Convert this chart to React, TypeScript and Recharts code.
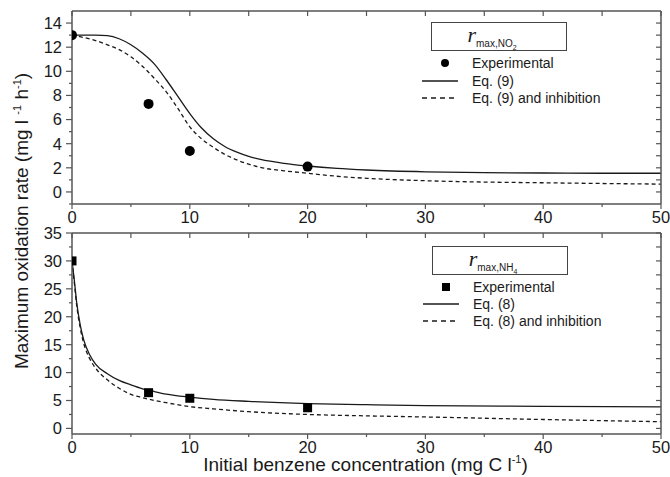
import React from 'react';
import { ComposedChart, Line, Scatter, XAxis, YAxis } from 'recharts';

// experimental points (benzene, mg C/l)
const expX = [0, 6.5, 10, 20];
const no2Exp = [13, 7.3, 3.4, 2.1];
const nh4Exp = [30, 6.4, 5.4, 3.7];

// model curves, NO2 panel
const no2CurveX = [0, 1, 2, 3, 4, 5, 6, 7, 8, 9, 10, 11, 12, 13, 14, 15, 16, 18, 20, 22.5, 25, 30, 35, 40, 45, 50];
const no2Eq9 = [13, 13, 13, 12.95, 12.7, 12.2, 11.5, 10.6, 9.3, 7.9, 6.5, 5.3, 4.4, 3.75, 3.3, 2.95, 2.7, 2.37, 2.15, 1.95, 1.82, 1.67, 1.6, 1.57, 1.55, 1.55];
const no2Eq9Inh = [13, 12.8, 12.55, 12.2, 11.8, 11.2, 10.4, 9.4, 8.3, 6.9, 5.4, 4.4, 3.7, 3.1, 2.65, 2.3, 2.03, 1.75, 1.55, 1.3, 1.13, 0.93, 0.82, 0.76, 0.7, 0.65];

// model curves, NH4 panel
const nh4CurveX = [0, 0.2, 0.4, 0.7, 1, 1.5, 2, 3, 4, 5, 6, 7, 8, 10, 12, 15, 20, 25, 30, 40, 50];
const nh4Eq8 = [30, 26.5, 22.5, 18.5, 15.8, 13.2, 11.5, 9.8, 8.6, 7.8, 7.1, 6.6, 6.15, 5.6, 5.2, 4.85, 4.45, 4.25, 4.1, 3.95, 3.85];
const nh4Eq8Inh = [30, 26, 22, 18, 15.2, 12.5, 10.8, 8.7, 7.2, 6.1, 5.5, 5.0, 4.6, 3.9, 3.5, 3.0, 2.5, 2.25, 2.05, 1.6, 1.2];

// ticks
const xMajor = [0, 10, 20, 30, 40, 50];
const xAll = [0, 5, 10, 15, 20, 25, 30, 35, 40, 45, 50];
const no2Major = [0, 2, 4, 6, 8, 10, 12, 14];
const no2All = [-1, 0, 1, 2, 3, 4, 5, 6, 7, 8, 9, 10, 11, 12, 13, 14];
const nh4Major = [0, 5, 10, 15, 20, 25, 30, 35];
const nh4All = [0, 2.5, 5, 7.5, 10, 12.5, 15, 17.5, 20, 22.5, 25, 27.5, 30, 32.5, 35];

const zip = (xs: number[], ys: number[]) => xs.map((x, i) => ({ x, y: ys[i] }));

const FONT = '"Liberation Sans", Arial, sans-serif';
const AXIS = '#555';
const INK = '#1a1a1a';
const TICK_FS = 16.5;
const TITLE_FS = 19;
const noLabel = () => <g />;

const Dot = (p: any) => <circle cx={p.cx} cy={p.cy} r={5} fill="#000" />;
const Square = (p: any) => <rect x={p.cx - 4.5} y={p.cy - 4.5} width={9} height={9} fill="#000" />;

// tick line + label drawn together so minor ticks can be shorter (tickSize 5, tickMargin 3)
const makeBottomTick = (majors: number[], labels: boolean) => (p: any) => {
  const v = p.payload.value;
  const major = majors.includes(v);
  const ay = p.y - 8;
  return (
    <g>
      <line x1={p.x} x2={p.x} y1={ay} y2={ay + (major ? 5 : 3)} stroke={AXIS} strokeWidth={1.2} />
      {major && labels && (
        <text x={p.x} y={p.y - 1} dy="0.71em" textAnchor="middle" fill={INK} fontSize={TICK_FS} fontFamily={FONT}>{v}</text>
      )}
    </g>
  );
};

// tickSize 6, tickMargin 4
const makeLeftTick = (majors: number[]) => (p: any) => {
  const v = p.payload.value;
  const major = majors.includes(v);
  const ax = p.x + 10;
  return (
    <g>
      <line x1={ax} x2={ax - (major ? 6 : 3)} y1={p.y} y2={p.y} stroke={AXIS} strokeWidth={1.2} />
      {major && (
        <text x={p.x} y={p.y} dy="0.355em" textAnchor="end" fill={INK} fontSize={TICK_FS} fontFamily={FONT}>{v}</text>
      )}
    </g>
  );
};

const XTitle = (props: any) => {
  const vb = props.viewBox || {};
  return (
    <text x={vb.x + vb.width / 2 - 1} y={vb.y + 37} textAnchor="middle" fill={INK} fontSize={TITLE_FS} fontFamily={FONT}>
      Initial benzene concentration (mg C l
      <tspan dy={-8} fontSize={11}>-1</tspan>
      <tspan dy={8}>)</tspan>
    </text>
  );
};

type Panel = {
  exp: { x: number; y: number }[];
  eq: { x: number; y: number }[];
  inh: { x: number; y: number }[];
  yDomain: [number, number];
  yMajor: number[];
  yAll: number[];
  marker: 'dot' | 'square';
  names: [string, string, string];
};

const Frame = ({ panel, height, top, xHeight, showX, title }: { panel: Panel; height: number; top: number; xHeight: number; showX: boolean; title: boolean }) => (
  <ComposedChart width={670} height={height} margin={{ top, right: 9, bottom: 0, left: 0 }}>
    <XAxis xAxisId="x" type="number" dataKey="x" domain={[0, 50]} allowDataOverflow ticks={xAll} interval={0}
      height={xHeight} tickSize={5} tickMargin={3} tick={makeBottomTick(xMajor, showX)} tickLine={false}
      axisLine={{ stroke: AXIS, strokeWidth: 1.5 }}
      label={title ? (p: any) => <XTitle {...p} /> : undefined} />
    <XAxis xAxisId="xt" orientation="top" mirror type="number" dataKey="x" domain={[0, 50]} allowDataOverflow ticks={xAll} interval={0}
      height={1} tickSize={5} tick={noLabel} axisLine={{ stroke: AXIS, strokeWidth: 1.5 }} tickLine={{ stroke: AXIS, strokeWidth: 1.2 }} />
    <YAxis yAxisId="y" type="number" dataKey="y" domain={panel.yDomain} allowDataOverflow ticks={panel.yAll} interval={0}
      width={72} tickSize={6} tickMargin={4} tick={makeLeftTick(panel.yMajor)} tickLine={false}
      axisLine={{ stroke: AXIS, strokeWidth: 1.5 }} />
    <YAxis yAxisId="yr" orientation="right" mirror type="number" dataKey="y" domain={panel.yDomain} allowDataOverflow
      ticks={panel.yAll.filter((t) => t >= 0)} interval={0}
      width={1} tickSize={5} tick={noLabel} axisLine={{ stroke: AXIS, strokeWidth: 1.5 }} tickLine={{ stroke: AXIS, strokeWidth: 1.2 }} />
    <Line xAxisId="x" yAxisId="y" data={panel.inh} dataKey="y" name={panel.names[2]} type="monotone" stroke={INK}
      strokeWidth={1.3} strokeDasharray="4 3" dot={false} isAnimationActive={false} />
    <Line xAxisId="x" yAxisId="y" data={panel.eq} dataKey="y" name={panel.names[1]} type="monotone" stroke={INK}
      strokeWidth={1.3} dot={false} isAnimationActive={false} />
    <Line xAxisId="xt" yAxisId="yr" data={panel.eq} dataKey="y" stroke="none" dot={false} activeDot={false}
      legendType="none" isAnimationActive={false} />
    <Scatter xAxisId="x" yAxisId="y" data={panel.exp} dataKey="y" name={panel.names[0]}
      shape={panel.marker === 'dot' ? Dot : Square} isAnimationActive={false} />
  </ComposedChart>
);

const LegendBox = ({ left, top, ion, names, marker, rowGap }: { left: number; top: number; ion: React.ReactNode; names: string[]; marker: 'dot' | 'square'; rowGap: number }) => (
  <div style={{ position: 'absolute', left, top, width: 150, fontFamily: FONT, color: INK }}>
    <div style={{ marginLeft: 11, width: 134, height: 27, border: '1px solid #444', display: 'flex', alignItems: 'center', justifyContent: 'center', boxSizing: 'content-box' }}>
      <span style={{ fontFamily: '"Liberation Serif", "DejaVu Serif", serif', fontStyle: 'italic', fontSize: 22, marginRight: 14 }}>
        r<sub style={{ fontFamily: FONT, fontStyle: 'normal', fontSize: 10 }}>max,{ion}</sub>
      </span>
    </div>
    {names.map((n, i) => (
      <div key={n} style={{ position: 'absolute', left: 0, top: 32 + i * rowGap, height: 18, width: 220, display: 'flex', alignItems: 'center', fontSize: 14 }}>
        <svg width={40} height={18} style={{ marginRight: 12 }}>
          {i === 0 && marker === 'dot' && <circle cx={25} cy={9} r={4} fill="#000" />}
          {i === 0 && marker === 'square' && <rect x={21} y={5} width={8} height={8} fill="#000" />}
          {i === 1 && <line x1={2} x2={38} y1={9} y2={9} stroke={INK} strokeWidth={1.3} />}
          {i === 2 && <line x1={2} x2={38} y1={9} y2={9} stroke={INK} strokeWidth={1.3} strokeDasharray="5 4" />}
        </svg>
        <span>{n}</span>
      </div>
    ))}
  </div>
);

const no2Panel: Panel = {
  exp: zip(expX, no2Exp),
  eq: zip(no2CurveX, no2Eq9),
  inh: zip(no2CurveX, no2Eq9Inh),
  yDomain: [-1, 15],
  yMajor: no2Major,
  yAll: no2All,
  marker: 'dot',
  names: ['Experimental', 'Eq. (9)', 'Eq. (9) and inhibition'],
};

const nh4Panel: Panel = {
  exp: zip(expX, nh4Exp),
  eq: zip(nh4CurveX, nh4Eq8),
  inh: zip(nh4CurveX, nh4Eq8Inh),
  yDomain: [-1, 35],
  yMajor: nh4Major,
  yAll: nh4All,
  marker: 'square',
  names: ['Experimental', 'Eq. (8)', 'Eq. (8) and inhibition'],
};

export default function App() {
  return (
    <div style={{ position: 'absolute', left: 0, top: 0, width: 670, height: 477, background: '#fff', overflow: 'hidden' }}>
      <div style={{ position: 'absolute', left: 0, top: 212 }}>
        <Frame panel={nh4Panel} height={265} top={21} xHeight={43} showX title />
      </div>
      <div style={{ position: 'absolute', left: 0, top: 0 }}>
        <Frame panel={no2Panel} height={230} top={11} xHeight={26} showX title={false} />
      </div>
      <div style={{ position: 'absolute', left: 17 - 200, top: 221 - 12, width: 400, height: 24, lineHeight: '24px', textAlign: 'center',
        transform: 'rotate(-90deg)', fontFamily: FONT, fontSize: TITLE_FS, color: INK, whiteSpace: 'nowrap' }}>
        Maximum oxidation rate (mg l <sup style={{ fontSize: 11 }}>-1</sup> h<sup style={{ fontSize: 11 }}>-1</sup>)
      </div>
      <LegendBox left={420} top={22} rowGap={17.5} marker="dot" names={no2Panel.names}
        ion={<>NO<sub style={{ fontSize: 7 }}>2</sub></>} />
      <LegendBox left={421} top={246} rowGap={17} marker="square" names={nh4Panel.names}
        ion={<>NH<sub style={{ fontSize: 7 }}>4</sub></>} />
    </div>
  );
}
